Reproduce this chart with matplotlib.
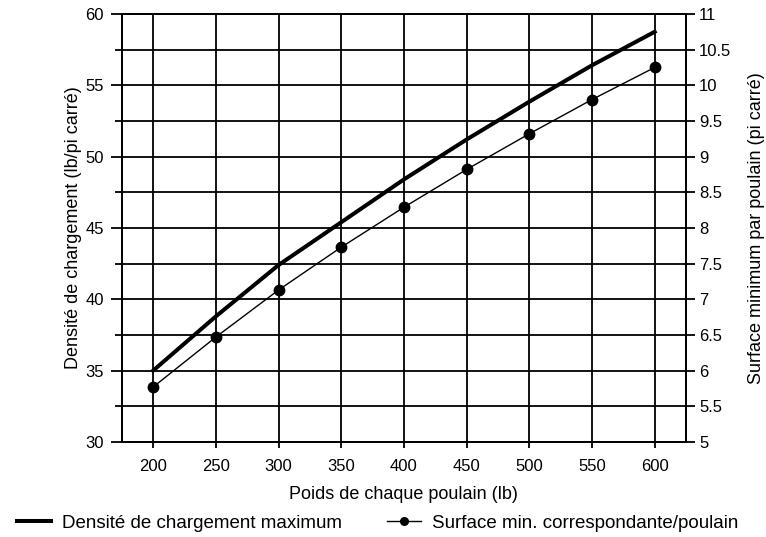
import numpy as np
import matplotlib.pyplot as plt
from matplotlib.lines import Line2D

plt.rcParams['font.family'] = ['Liberation Sans', 'DejaVu Sans']
plt.rcParams['font.size'] = 12

# Données
poids = [200, 250, 300, 350, 400, 450, 500, 550, 600]
densite_max = [35.0, 38.8, 42.4, 45.4, 48.4, 51.2, 53.85, 56.4, 58.75]
surface_min = [5.77, 6.47, 7.13, 7.73, 8.29, 8.82, 9.32, 9.80, 10.25]

fig = plt.figure(figsize=(7.66, 5.37), dpi=100)
ax = fig.add_axes([0.159, 0.177, 0.7366, 0.797])
ax2 = ax.twinx()

lw = 1.3

# Axe gauche
ax.set_xlim(175, 625)
ax.set_ylim(30, 60)
ax.set_xticks(poids)
ax.set_yticks(np.arange(30, 61, 5))
ax.set_yticks(np.arange(32.5, 60, 5), minor=True)
ax.tick_params(axis='x', length=4.5, width=lw, direction='out', pad=7.5)
ax.tick_params(axis='y', which='major', length=8, width=lw, direction='out', pad=5)
ax.tick_params(axis='y', which='minor', length=5, width=lw, direction='out')
ax.grid(True, which='both', color='black', linewidth=lw)
ax.set_axisbelow(True)
for s in ax.spines.values():
    s.set_linewidth(lw)

# Axe droit
ax2.set_ylim(5, 11)
ax2.set_yticks(np.arange(5, 11.01, 0.5))
ax2.set_yticklabels(['5', '5.5', '6', '6.5', '7', '7.5', '8', '8.5', '9',
                     '9.5', '10', '10.5', '11'])
ax2.tick_params(axis='y', length=6.5, width=lw, direction='out', pad=3)
for s in ax2.spines.values():
    s.set_linewidth(lw)

# Courbes
ax.plot(poids, densite_max, color='black', linewidth=2.9, zorder=5)
ax2.plot(poids, surface_min, color='black', linewidth=1.0, marker='o',
         markersize=7.5, zorder=5)

ax.set_xlabel('Poids de chaque poulain (lb)', fontsize=13, labelpad=9)
ax.set_ylabel('Densité de chargement (lb/pi carré)', fontsize=13, labelpad=2)
ax2.set_ylabel('Surface minimum par poulain (pi carré)', fontsize=13, labelpad=12)

# Légende
handles = [Line2D([], [], color='black', linewidth=2.9),
           Line2D([], [], color='black', linewidth=1.0, marker='o', markersize=5.5)]
labels = ['Densité de chargement maximum', 'Surface min. correspondante/poulain']
fig.legend(handles, labels, loc='center left', bbox_to_anchor=(0.0, 0.026),
           ncol=2, frameon=False, fontsize=13.5, handlelength=1.8,
           handletextpad=0.6, columnspacing=2.4)

fig.savefig('out.png', dpi=100)
